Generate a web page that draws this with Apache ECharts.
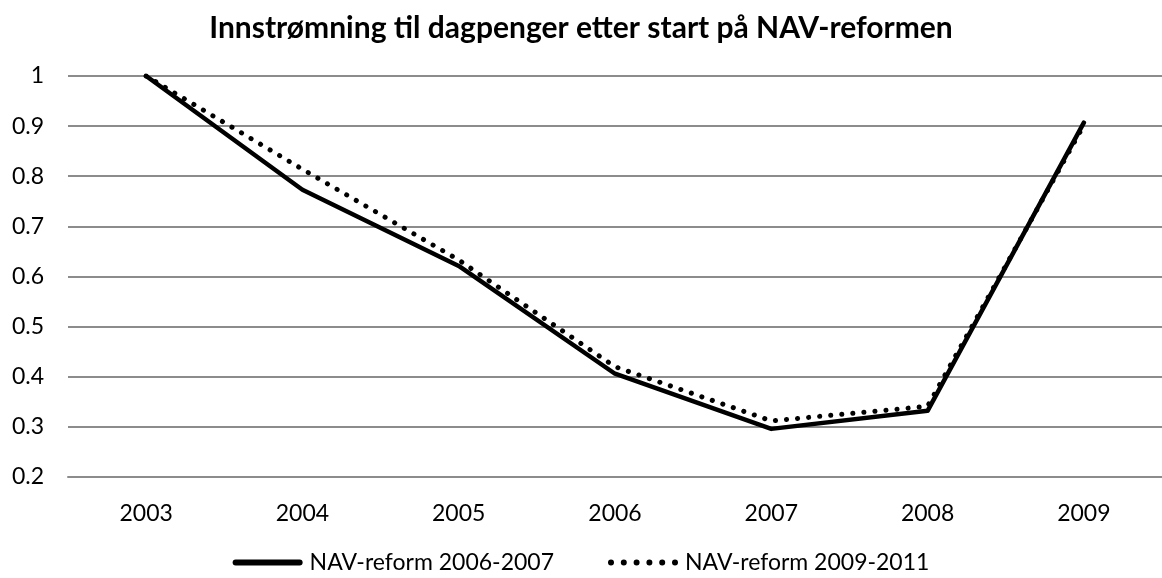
<!DOCTYPE html>
<html>
<head>
<meta charset="utf-8">
<script src="https://cdn.jsdelivr.net/npm/echarts@6/dist/echarts.min.js"></script>
<style>
 html,body{margin:0;padding:0;background:#fff;}
 #chart{width:1162px;height:578px;}
</style>
</head>
<body>
<div id="chart"></div>
<script>
var years = ['2003', '2004', '2005', '2006', '2007', '2008', '2009'];
var reform0607 = [1.0, 0.773, 0.621, 0.406, 0.296, 0.332, 0.907];
var reform0911 = [1.0, 0.814, 0.633, 0.42, 0.312, 0.341, 0.902];
var yTicks = [0.2, 0.3, 0.4, 0.5, 0.6, 0.7, 0.8, 0.9, 1];

var fontFam = 'Lato, "Open Sans", sans-serif';

// legend icons: thick bar and a row of dots
var iconSolid = 'path://M3,0 H67 A3,3 0 0,1 67,6 H3 A3,3 0 0,1 3,0 Z';
var iconDots = 'path://';
for (var d = 0; d < 6; d++) {
	var cx = 3 + d * 12.8;
	iconDots += 'M' + (cx - 3) + ',3 a3,3 0 1,0 6,0 a3,3 0 1,0 -6,0 ';
}

var myChart = echarts.init(document.getElementById('chart'));

var option = {
	animation : false,
	title : {
		text : 'Innstrømning til dagpenger etter start på NAV-reformen',
		left : 'center',
		top : 8,
		textStyle : {
			fontFamily : fontFam,
			fontSize : 30,
			fontWeight : 'bold',
			color : '#000'
		}
	},
	legend : {
		top : 546,
		left : 'center',
		itemWidth : 70,
		itemHeight : 6,
		itemGap : 54,
		textStyle : {
			fontFamily : fontFam,
			fontSize : 23,
			color : '#000',
			padding : [0, 0, 0, 2]
		},
		data : [
			{ name : 'NAV-reform 2006-2007', icon : iconSolid },
			{ name : 'NAV-reform 2009-2011', icon : iconDots }
		]
	},
	grid : {
		left : 68,
		right : -3,
		top : 76,
		bottom : 101,
		containLabel : false
	},
	xAxis : {
		type : 'category',
		data : years,
		boundaryGap : true,
		axisLine : { show : true, lineStyle : { color : '#8c8c8c', width : 2 } },
		axisTick : { show : false },
		axisLabel : {
			margin : 25,
			fontFamily : fontFam,
			fontSize : 23,
			color : '#000'
		}
	},
	yAxis : {
		type : 'value',
		min : 0.2,
		max : 1,
		interval : 0.1,
		axisLine : { show : false },
		axisTick : { show : false },
		splitLine : { lineStyle : { color : '#8c8c8c', width : 2 } },
		axisLabel : {
			margin : 24,
			fontFamily : fontFam,
			fontSize : 23,
			color : '#000',
			formatter : function(v) {
				// 0.2 .. 1 like the spreadsheet labels
				for (var i = 0; i < yTicks.length; i++) {
					if (Math.abs(yTicks[i] - v) < 1e-6) return String(yTicks[i]);
				}
				return '';
			}
		}
	},
	series : [ {
		name : 'NAV-reform 2006-2007',
		type : 'line',
		data : reform0607,
		symbol : 'none',
		lineStyle : { color : '#000', width : 4.5, cap : 'round', join : 'round' },
		itemStyle : { color : '#000' },
		z : 3
	}, {
		name : 'NAV-reform 2009-2011',
		type : 'line',
		data : reform0911,
		symbol : 'none',
		lineStyle : { color : '#000', width : 5, type : [0.1, 11], cap : 'round', join : 'round' },
		itemStyle : { color : '#000' },
		z : 2
	} ]
};

myChart.setOption(option);
</script>
</body>
</html>
